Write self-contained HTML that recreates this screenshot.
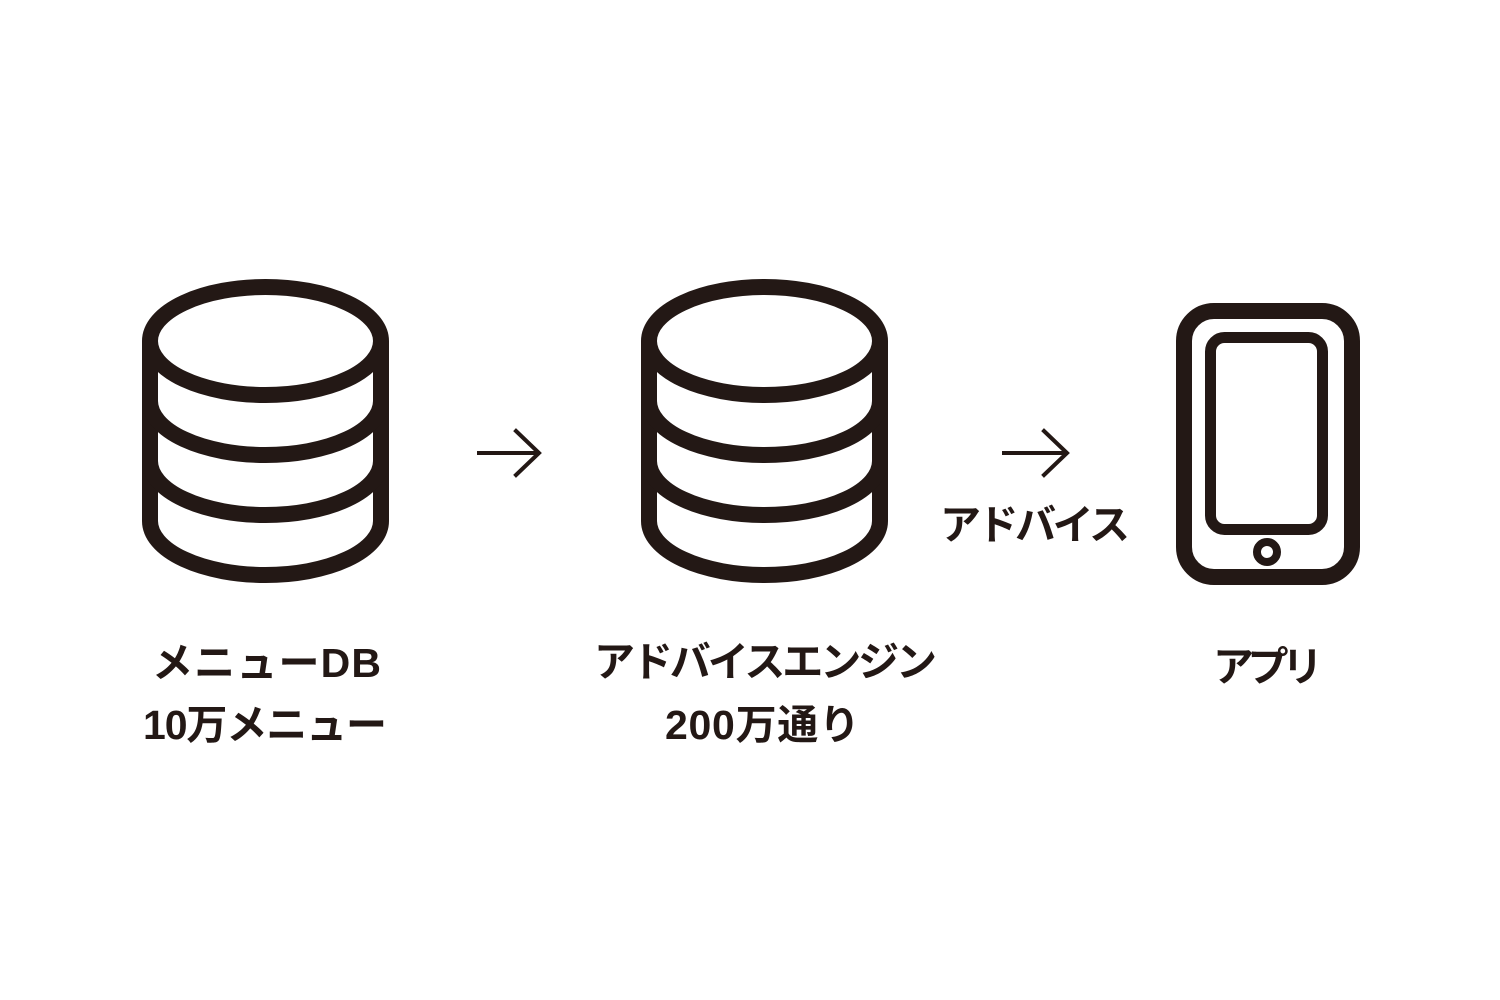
<!DOCTYPE html>
<html><head><meta charset="utf-8"><style>html,body{margin:0;padding:0;background:#fff}svg{display:block}</style></head>
<body>
<svg width="1500" height="1000" viewBox="0 0 1500 1000" xmlns="http://www.w3.org/2000/svg">
<g fill="none" stroke="#231815" stroke-width="16">
  <g>
    <ellipse cx="265.5" cy="341" rx="115.5" ry="54"/>
    <path d="M150 341 V521 A115.5 54 0 0 0 381 521 V341"/>
    <path d="M150 401 A115.5 54 0 0 0 381 401"/>
    <path d="M150 461 A115.5 54 0 0 0 381 461"/>
  </g>
  <g transform="translate(499,0)">
    <ellipse cx="265.5" cy="341" rx="115.5" ry="54"/>
    <path d="M150 341 V521 A115.5 54 0 0 0 381 521 V341"/>
    <path d="M150 401 A115.5 54 0 0 0 381 401"/>
    <path d="M150 461 A115.5 54 0 0 0 381 461"/>
  </g>
  <rect x="1184" y="311" width="168" height="266" rx="30"/>
  <rect x="1210.5" y="337.5" width="112" height="192" rx="14" stroke-width="11"/>
  <circle cx="1267" cy="552" r="10" stroke-width="8"/>
</g>
<g fill="none" stroke="#231815" stroke-width="4" stroke-linecap="square">
  <path d="M479 453 H538 M516 431 L539 453 L516 475"/>
  <path d="M1004 453 H1066 M1044 431 L1067 453 L1044 475"/>
</g>
<g fill="#231815" font-family="'Liberation Sans','Noto Sans CJK JP',sans-serif" font-weight="bold" font-size="41">
  <text x="152" y="677" textLength="229" lengthAdjust="spacing">メニューDB</text>
  <text x="143" y="739" textLength="244" lengthAdjust="spacing">10万メニュー</text>
  <text x="594" y="676" textLength="343" lengthAdjust="spacing">アドバイスエンジン</text>
  <text x="665" y="739" textLength="195" lengthAdjust="spacing">200万通り</text>
  <text x="940" y="539" textLength="190" lengthAdjust="spacing">アドバイス</text>
  <text x="1213" y="681" textLength="110" lengthAdjust="spacing">アプリ</text>
</g>
</svg>
</body></html>
